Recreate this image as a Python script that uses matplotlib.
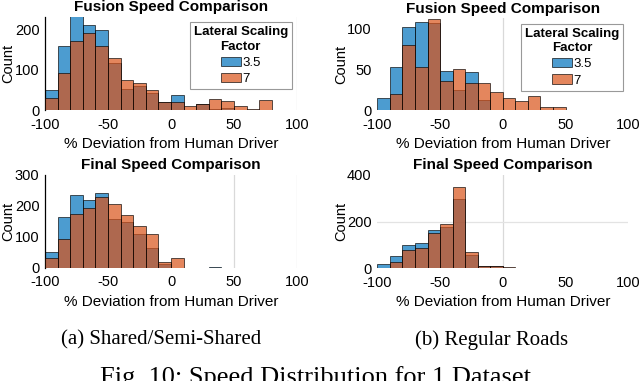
import numpy as np
import matplotlib
matplotlib.use("Agg")
import matplotlib.pyplot as plt

# ---------------- data ----------------
bin_width = 10
series_labels = ["3.5", "7"]

# (a) Shared/Semi-Shared, fusion speed : bins start at -100
fus_shared_start = -100
fus_shared_35 = [50, 158, 240, 212, 198, 117, 52, 60, 42, 21, 37, 0, 14, 3, 4, 0, 0, 0]
fus_shared_7 = [30, 92, 171, 192, 160, 129, 75, 68, 50, 21, 20, 10, 14, 27, 22, 10, 3, 24]

# (b) Regular roads, fusion speed
fus_regular_start = -100
fus_regular_35 = [15, 52, 101, 107, 106, 48, 25, 46, 12, 0, 0, 0, 0, 0, 0]
fus_regular_7 = [0, 19, 80, 52, 111, 36, 50, 33, 33, 22, 15, 11, 17, 4, 4]

# (a) Shared/Semi-Shared, final speed
fin_shared_start = -100
fin_shared_35 = [50, 163, 235, 218, 241, 157, 147, 108, 65, 11, 0, 0, 0, 2]
fin_shared_7 = [30, 93, 173, 192, 230, 205, 172, 135, 108, 19, 30, 0, 0, 0]

# (b) Regular roads, final speed
fin_regular_start = -100
fin_regular_35 = [18, 53, 100, 108, 165, 175, 295, 56, 11, 10, 0]
fin_regular_7 = [0, 27, 77, 88, 152, 188, 350, 68, 10, 8, 4]

xticks = [-100, -50, 0, 50, 100]
titles = ["Fusion Speed Comparison", "Final Speed Comparison"]
xlabel = "% Deviation from Human Driver"
ylabel = "Count"
legend_title = "Lateral Scaling\nFactor"
captions = ["(a) Shared/Semi-Shared", "(b) Regular Roads"]
fig_caption = "Fig. 10: Speed Distribution for 1 Dataset"

# ---------------- style ----------------
plt.rcParams['font.family'] = ['Liberation Sans', 'DejaVu Sans']
blue = (0.0, 0.447, 0.741)
orange = (0.85, 0.325, 0.098)
face_alpha = 0.7
edge = (0, 0, 0, 0.75)

fig = plt.figure(figsize=(6.4, 3.81), dpi=100)
W, H = 640.0, 381.0

def ax_at(x0, ytop, x1, ybot):
    return fig.add_axes([x0 / W, 1 - ybot / H, (x1 - x0) / W, (ybot - ytop) / H])

ax1 = ax_at(45, 16.7, 297, 110)
ax2 = ax_at(377.3, 18.3, 628.3, 110)
ax3 = ax_at(45, 175, 297, 267.7)
ax4 = ax_at(377.3, 175, 628.3, 268.3)

panels = [
    (ax1, fus_shared_start, fus_shared_35, fus_shared_7, titles[0], (0, 232), [0, 100, 200], True, True),
    (ax2, fus_regular_start, fus_regular_35, fus_regular_7, titles[0], (0, 112), [0, 50, 100], False, True),
    (ax3, fin_shared_start, fin_shared_35, fin_shared_7, titles[1], (0, 300), [0, 100, 200, 300], True, False),
    (ax4, fin_regular_start, fin_regular_35, fin_regular_7, titles[1], (0, 400), [0, 200, 400], False, False),
]

grid_x = {0: [100], 1: [0], 2: [50, 100], 3: [0]}
grid_y = {3: [200]}

for i, (ax, start, s35, s7, title, ylim, yt, left_spine, legend) in enumerate(panels):
    lefts35 = start + bin_width * np.arange(len(s35))
    lefts7 = start + bin_width * np.arange(len(s7))
    for gx in grid_x.get(i, []):
        ax.axvline(gx, color='#d9d9d9', lw=0.9, zorder=0)
    for gy in grid_y.get(i, []):
        ax.axhline(gy, color='#e3e3e3', lw=0.9, zorder=0)
    ax.bar(lefts35, s35, width=bin_width, align='edge',
           facecolor=(*blue, face_alpha), edgecolor=edge, linewidth=0.6,
           label=series_labels[0], zorder=2)
    ax.bar(lefts7, s7, width=bin_width, align='edge',
           facecolor=(*orange, face_alpha), edgecolor=edge, linewidth=0.6,
           label=series_labels[1], zorder=3)
    ax.set_xlim(-100, 100)
    ax.set_ylim(*ylim)
    ax.set_xticks(xticks)
    ax.set_xticklabels([str(v) for v in xticks])
    ax.set_yticks(yt)
    ax.tick_params(axis='both', length=0, labelsize=10.5)
    ax.tick_params(axis='x', pad=5.5)
    ax.tick_params(axis='y', pad=4)
    for sp in ['top', 'right', 'bottom']:
        ax.spines[sp].set_visible(False)
    if left_spine:
        ax.spines['left'].set_color('black')
        ax.spines['left'].set_linewidth(0.9)
    else:
        ax.spines['left'].set_visible(False)
    ax.set_title(title, fontsize=11, fontweight='bold', pad=4)
    ax.set_xlabel(xlabel, fontsize=11)
    ax.set_ylabel(ylabel, fontsize=10.5)
    ax.xaxis.set_label_coords(0.5, -0.29)
    ax.yaxis.set_label_coords(-0.117, 0.5)
    if legend:
        leg = ax.legend(title=legend_title, loc='upper right', fontsize=9.5,
                        title_fontproperties={'weight': 'bold', 'size': 9.5},
                        frameon=True, fancybox=False, borderaxespad=0.4,
                        handlelength=1.5, handleheight=0.7, handletextpad=0.1,
                        labelspacing=0.3, borderpad=0.3, alignment='center')
        leg.get_title().set_multialignment('center')
        leg.get_title().set_linespacing(1.3)
        leg.get_frame().set_edgecolor('#808080')
        leg.get_frame().set_linewidth(0.8)

serif = ['Liberation Serif', 'DejaVu Serif']
fig.text(161 / W, 1 - 340 / H, captions[0], ha='center', va='center',
         family=serif, fontsize=15)
fig.text(492 / W, 1 - 340 / H, captions[1], ha='center', va='center',
         family=serif, fontsize=15)
fig.text(315 / W, 1 - 366 / H, fig_caption, ha='center', va='top',
         family=serif, fontsize=19)

fig.savefig("out.png", dpi=100)
